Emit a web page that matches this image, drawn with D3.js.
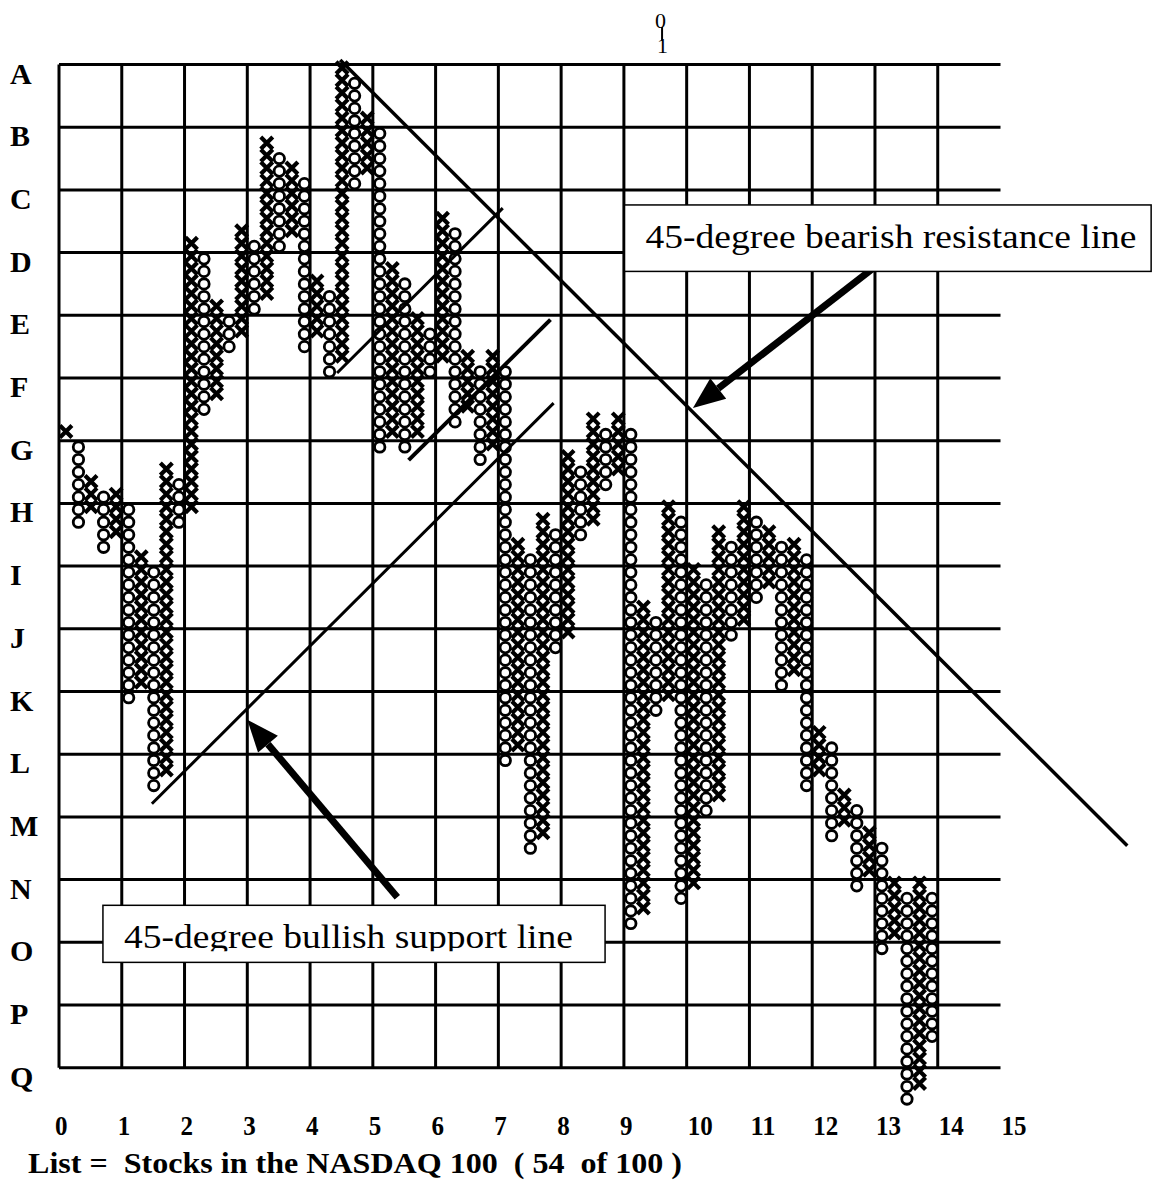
<!DOCTYPE html>
<html>
<head>
<meta charset="utf-8">
<script src="https://cdn.jsdelivr.net/npm/d3@7"></script>
<style>
  body { margin: 0; background: #fff; }
  text { font-family: "Liberation Serif", "Times New Roman", serif; fill: #000; }
</style>
</head>
<body>
<svg width="1156" height="1181"></svg>
<script>
// rows and columns of the grid
var rowLabels = ["A","B","C","D","E","F","G","H","I","J","K","L","M","N","O","P","Q"];
var colLabels = ["0","1","2","3","4","5","6","7","8","9","10","11","12","13","14","15"];

// point & figure columns: kind, top box and bottom box (boxes counted from row A, 5 boxes per row)
var colKind   = "XOXOXOXOXOXOXOXOXOXOXOXOXOXOXOXOXOXOXOXOXOXOXOXOXOXOXOXOXOXOXOXOXOXOXO".split("");
var colTop    = [29,30,33,34,34,35,39,40,32,33,14,15,19,20,13,14,6,7,8,9,17,18,0,1,4,5,16,17,20,21,12,13,23,24,23,24,38,39,36,37,31,32,28,29,28,29,43,44,35,36,40,41,37,38,35,36,37,38,38,39,53,54,58,59,61,62,65,66,65,66];
var colBottom = [29,36,35,38,37,50,49,57,56,36,35,27,26,22,21,19,18,14,13,22,21,24,23,9,8,30,29,30,29,24,23,28,27,31,30,55,54,62,61,46,45,37,36,33,32,68,67,51,50,66,65,59,58,45,44,42,41,49,48,57,56,61,60,65,64,70,69,82,81,77];

// trend lines, in grid units [column, row]
var trendLines = [
  {from: [4.48, -0.07], to: [17.02, 12.46], w: 3.5},
  {from: [1.48, 11.79], to: [7.88, 5.40], w: 3},
  {from: [4.43, 4.92], to: [7.07, 2.29], w: 3},
  {from: [5.57, 6.31], to: [7.83, 4.07], w: 4}
];

var notes = [
  {text: "45-degree bearish resistance line", box: [9.01, 2.24, 17.4, 3.3], width: 491, arrowFrom: [12.97, 3.25], arrowTo: [10.1, 5.48], clip: false},
  {text: "45-degree bullish support line", box: [0.7, 13.41, 8.7, 14.32], width: 449, arrowFrom: [5.39, 13.28], arrowTo: [3.0, 10.45], clip: true}
];

var footer = "List =  Stocks in the NASDAQ 100  ( 54  of 100 )";

function main() {
  var svg = d3.select("svg");

  var x = d3.scaleLinear().domain([0, 15]).range([59, 1000.5]);
  var y = d3.scaleLinear().domain([0, 16]).range([64.5, 1067.7]);
  var colX = function(i) { return x(i / 5 + 0.11); };
  var boxY = function(k) { return y((k + 0.5) / 5); };

  var grid = svg.append("g").attr("stroke", "#000").attr("stroke-width", 3);
  grid.selectAll(".h").data(rowLabels).enter().append("line")
      .attr("x1", x(0)).attr("x2", x(15))
      .attr("y1", function(d, i) { return y(i); })
      .attr("y2", function(d, i) { return y(i); });
  grid.selectAll(".v").data(d3.range(15)).enter().append("line")
      .attr("x1", function(d) { return x(d); })
      .attr("x2", function(d) { return x(d); })
      .attr("y1", y(0)).attr("y2", y(16));

  svg.selectAll(".rlab").data(rowLabels).enter().append("text")
     .attr("x", 10)
     .attr("y", function(d, i) { return y(i) + 19; })
     .attr("font-size", "30px")
     .attr("font-weight", "bold")
     .text(function(d) { return d; });

  svg.selectAll(".clab").data(colLabels).enter().append("text")
     .attr("x", function(d, i) { return x(i) + (d.length > 1 ? 1 : -4); })
     .attr("y", y(16) + 67)
     .attr("font-size", "27px")
     .attr("font-weight", "bold")
     .attr("textLength", function(d) { return d.length * 12.5; })
     .attr("lengthAdjust", "spacingAndGlyphs")
     .text(function(d) { return d; });

  svg.append("text")
     .attr("x", 28).attr("y", 1173)
     .attr("font-size", "29px")
     .attr("font-weight", "bold")
     .attr("textLength", 654)
     .attr("lengthAdjust", "spacingAndGlyphs")
     .style("white-space", "pre")
     .text(footer);

  // marker above the grid: "0" stacked over "1", joined by the stem of the 1
  var mx = x(9.6);
  svg.append("text").attr("x", mx - 1).attr("y", 28).attr("font-size", "22px")
     .attr("text-anchor", "middle").text("0");
  svg.append("text").attr("x", mx + 1).attr("y", 53).attr("font-size", "22px")
     .attr("text-anchor", "middle").text("1");
  svg.append("line").attr("x1", mx + 0.5).attr("x2", mx + 0.5).attr("y1", 27).attr("y2", 40)
     .attr("stroke", "#000").attr("stroke-width", 2);

  // boxes
  var cols = colKind.map(function(k, i) {
    return {kind: k, i: i, boxes: d3.range(colTop[i], colBottom[i] + 1)};
  });
  var colG = svg.selectAll(".col").data(cols).enter().append("g");
  colG.each(function(c) {
    var g = d3.select(this);
    var cx = colX(c.i);
    if (c.kind === "X") {
      g.selectAll("path").data(c.boxes).enter().append("path")
       .attr("d", function(k) {
         var cy = boxY(k) - 3, r = 6;
         return "M" + (cx - r) + "," + (cy - r) + "L" + (cx + r) + "," + (cy + r) +
                "M" + (cx + r) + "," + (cy - r) + "L" + (cx - r) + "," + (cy + r);
       })
       .attr("stroke", "#000").attr("stroke-width", 4.2).attr("fill", "none");
    } else {
      g.selectAll("circle").data(c.boxes).enter().append("circle")
       .attr("cx", cx).attr("cy", function(k) { return boxY(k); })
       .attr("r", 5.2)
       .attr("fill", "#fff").attr("stroke", "#000").attr("stroke-width", 2.8);
    }
  });

  svg.selectAll(".trend").data(trendLines).enter().append("line")
     .attr("x1", function(d) { return x(d.from[0]); })
     .attr("y1", function(d) { return y(d.from[1]); })
     .attr("x2", function(d) { return x(d.to[0]); })
     .attr("y2", function(d) { return y(d.to[1]); })
     .attr("stroke", "#000")
     .attr("stroke-width", function(d) { return d.w; });

  // arrows
  notes.forEach(function(n) {
    var x1 = x(n.arrowFrom[0]), y1 = y(n.arrowFrom[1]);
    var x2 = x(n.arrowTo[0]), y2 = y(n.arrowTo[1]);
    var a = Math.atan2(y2 - y1, x2 - x1), len = 32, half = 13;
    var bx = x2 - len * Math.cos(a), by = y2 - len * Math.sin(a);
    svg.append("line").attr("x1", x1).attr("y1", y1).attr("x2", bx).attr("y2", by)
       .attr("stroke", "#000").attr("stroke-width", 7);
    svg.append("path")
       .attr("d", "M" + x2 + "," + y2 +
                  "L" + (bx + half * Math.sin(a)) + "," + (by - half * Math.cos(a)) +
                  "L" + (bx - half * Math.sin(a)) + "," + (by + half * Math.cos(a)) + "Z")
       .attr("fill", "#000");
  });

  // note boxes
  notes.forEach(function(n, i) {
    var bx = x(n.box[0]), by = y(n.box[1]), bw = x(n.box[2]) - bx, bh = y(n.box[3]) - by;
    svg.append("rect").attr("x", bx).attr("y", by).attr("width", bw).attr("height", bh)
       .attr("fill", "#fff").attr("stroke", "#000").attr("stroke-width", 1.5);
    var t = svg.append("text")
       .attr("x", bx + 21).attr("y", by + 43)
       .attr("font-size", "33px")
       .attr("textLength", n.width)
       .attr("lengthAdjust", "spacingAndGlyphs")
       .text(n.text);
    if (n.clip) {
      svg.append("clipPath").attr("id", "clip" + i).append("rect")
         .attr("x", bx).attr("y", by).attr("width", bw).attr("height", 46);
      t.attr("clip-path", "url(#clip" + i + ")");
    }
  });
}
main();
</script>
</body>
</html>
